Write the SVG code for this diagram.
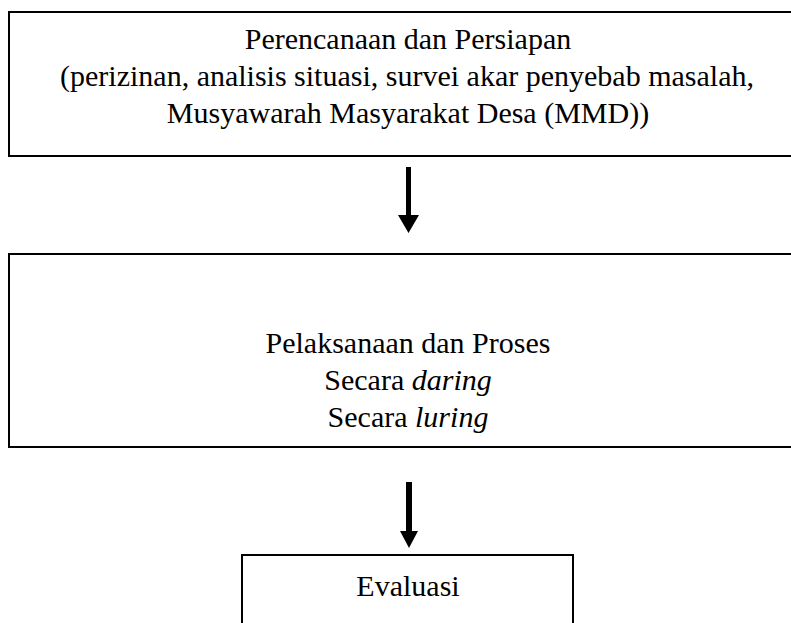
<svg xmlns="http://www.w3.org/2000/svg" width="791" height="623" viewBox="0 0 791 623">
<style>
.box{fill:#fff;stroke:#000;stroke-width:2}
.t{font-family:"Liberation Serif","Times New Roman",serif;font-size:30px;fill:#000;text-anchor:middle}
.i{font-style:italic}
.arr{fill:#000}
</style>
<rect width="791" height="623" fill="#fff"/>
<g id="node-perencanaan">
<rect class="box" x="9" y="12" width="800" height="144"/>
<text class="t" x="408" y="49">Perencanaan dan Persiapan</text>
<text class="t" x="407" y="86">(perizinan, analisis situasi, survei akar penyebab masalah,</text>
<text class="t" x="408" y="123">Musyawarah Masyarakat Desa (MMD))</text>
</g>
<g id="node-pelaksanaan">
<rect class="box" x="9" y="254" width="800" height="193"/>
<text class="t" x="408" y="353">Pelaksanaan dan Proses</text>
<text class="t" x="408" y="390">Secara <tspan class="i">daring</tspan></text>
<text class="t" x="408" y="427">Secara <tspan class="i">luring</tspan></text>
</g>
<g id="node-evaluasi">
<rect class="box" x="242" y="555" width="331" height="80"/>
<text class="t" x="408" y="596">Evaluasi</text>
</g>
<g id="connectors">
<polygon class="arr" points="406,167 411,167 411,215 419,215 408.5,233 398,215 406,215"/>
<polygon class="arr" points="406,482 412,482 412,531 418,531 409,548 400,531 406,531"/>
</g>
</svg>
